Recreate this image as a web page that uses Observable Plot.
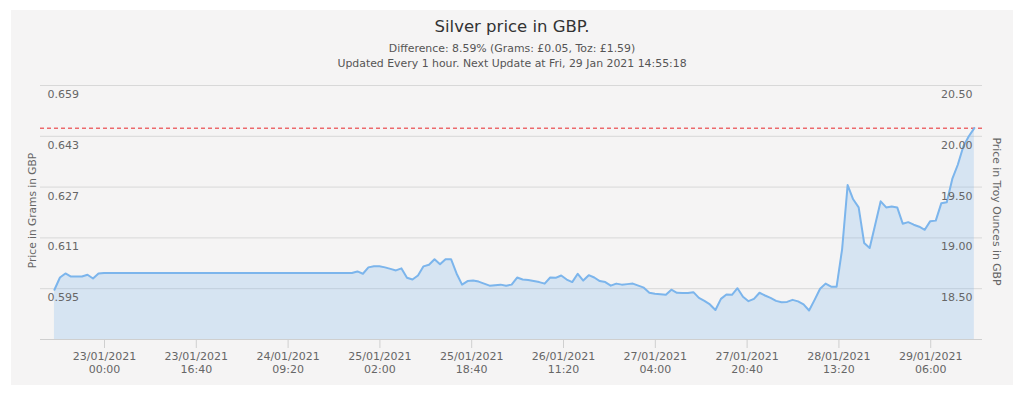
<!DOCTYPE html>
<html>
<head>
<meta charset="utf-8">
<script src="https://cdn.jsdelivr.net/npm/d3@7"></script>
<script src="https://cdn.jsdelivr.net/npm/@observablehq/plot@0.6"></script>
<style>
  html, body { margin: 0; padding: 0; background: #ffffff; }
  body { width: 1024px; height: 393px; position: relative; overflow: hidden; font-family: "DejaVu Sans", sans-serif; }
  #panel { position: absolute; left: 11px; top: 10px; width: 1002px; height: 375px; background: #f5f4f4; }
  .t { position: absolute; left: 0; width: 1024px; text-align: center; white-space: nowrap; }
  #title { top: 17px; font-size: 16.5px; color: #333333; }
  #sub1 { top: 42px; font-size: 10.9px; color: #555555; }
  #sub2 { top: 57px; font-size: 10.9px; color: #555555; }
  #chart { position: absolute; left: 0; top: 80px; }
</style>
</head>
<body>
<div id="panel"></div>
<div class="t" id="title">Silver price in GBP.</div>
<div class="t" id="sub1">Difference: 8.59% (Grams: £0.05, Toz: £1.59)</div>
<div class="t" id="sub2">Updated Every 1 hour. Next Update at Fri, 29 Jan 2021 14:55:18</div>
<div id="chart"></div>
<script>
// Hourly silver price (GBP per troy ounce), first reading at startTime
const startTime = "2021-01-22T14:55:00Z";
const tozValues = [
  18.49, 18.61, 18.65, 18.62, 18.62, 18.62, 18.637, 18.60, 18.65, 18.655,
  18.655, 18.655, 18.655, 18.655, 18.655, 18.655, 18.655, 18.655, 18.655,
  18.655, 18.655, 18.655, 18.655, 18.655, 18.655, 18.655, 18.655, 18.655,
  18.655, 18.655, 18.655, 18.655, 18.655, 18.655, 18.655, 18.655, 18.655,
  18.655, 18.655, 18.655, 18.655, 18.655, 18.655, 18.655, 18.655, 18.655,
  18.655, 18.655, 18.655, 18.655, 18.655, 18.655, 18.655, 18.655, 18.655,
  18.67, 18.647, 18.71, 18.72, 18.72, 18.71, 18.695, 18.68, 18.70, 18.607,
  18.59, 18.63, 18.72, 18.735, 18.79, 18.74, 18.79, 18.79, 18.65, 18.54,
  18.575, 18.58, 18.57, 18.55, 18.53, 18.535, 18.54, 18.53, 18.54, 18.61,
  18.59, 18.585, 18.575, 18.565, 18.55, 18.61, 18.607, 18.63, 18.59, 18.565,
  18.647, 18.58, 18.633, 18.61, 18.575, 18.565, 18.53, 18.55, 18.54, 18.545,
  18.55, 18.53, 18.51, 18.46, 18.45, 18.445, 18.44, 18.49, 18.46, 18.457,
  18.457, 18.466, 18.41, 18.38, 18.345, 18.29, 18.40, 18.443, 18.44, 18.505,
  18.42, 18.377, 18.40, 18.46, 18.433, 18.41, 18.38, 18.367, 18.37, 18.39,
  18.375, 18.345, 18.285, 18.39, 18.50, 18.55, 18.52, 18.52, 18.89, 19.52,
  19.38, 19.30, 18.95, 18.90, 19.13, 19.36, 19.30, 19.31, 19.30, 19.14,
  19.155, 19.13, 19.11, 19.08, 19.165, 19.17, 19.34, 19.35, 19.58, 19.72,
  19.90, 20.00, 20.08
];
const currentPrice = 20.08;

// Axes
const xDomain = ["2021-01-22T12:23:00Z", "2021-01-29T15:24:00Z"];
const xTickTimes = [
  "2021-01-23T00:00:00Z", "2021-01-23T16:40:00Z", "2021-01-24T09:20:00Z",
  "2021-01-25T02:00:00Z", "2021-01-25T18:40:00Z", "2021-01-26T11:20:00Z",
  "2021-01-27T04:00:00Z", "2021-01-27T20:40:00Z", "2021-01-28T13:20:00Z",
  "2021-01-29T06:00:00Z"
];
const yDomain = [18, 20.5];
const tozTicks = [18.5, 19, 19.5, 20, 20.5];
const tozTickLabels = ["18.50", "19.00", "19.50", "20.00", "20.50"];
const gramTickLabels = ["0.595", "0.611", "0.627", "0.643", "0.659"];
const leftTitle = "Price in Grams in GBP";
const rightTitle = "Price in Troy Ounces in GBP";

const t0 = new Date(startTime).getTime();
const data = tozValues.map((v, i) => ({ date: new Date(t0 + i * 3600e3), value: v }));
const ticks = tozTicks.map((v, i) => ({ v, toz: tozTickLabels[i], gram: gramTickLabels[i] }));
const fmt = d3.utcFormat("%d/%m/%Y\n%H:%M");

const font = "DejaVu Sans, sans-serif";
const chart = Plot.plot({
  width: 1024,
  height: 305,
  marginTop: 5,
  marginBottom: 46,
  marginLeft: 40,
  marginRight: 42,
  style: { background: "transparent", fontFamily: font, fontSize: "11px", color: "#666666", overflow: "visible" },
  x: { type: "utc", domain: xDomain.map(d => new Date(d)) },
  y: { domain: yDomain, axis: null },
  marks: [
    Plot.ruleY(tozTicks, { stroke: "#d8d8d8", strokeWidth: 1 }),
    Plot.areaY(data, { x: "date", y1: yDomain[0], y2: "value", fill: "#7cb5ec", fillOpacity: 0.25 }),
    Plot.ruleY([yDomain[0]], { stroke: "#cfcfcf", strokeWidth: 1 }),
    Plot.ruleY([currentPrice], { stroke: "#e8262a", strokeWidth: 1, strokeDasharray: "4,3" }),
    Plot.lineY(data, { x: "date", y: "value", stroke: "#7cb5ec", strokeWidth: 2, curve: "linear" }),
    Plot.axisX(xTickTimes.map(d => new Date(d)), {
      tickFormat: fmt, tickSize: 9, tickPadding: 3, stroke: "#cfcfcf", fill: "#666666",
      lineHeight: 1.12, fontSize: 11, label: null
    }),
    Plot.text(ticks, { y: "v", text: "gram", frameAnchor: "left", textAnchor: "start", dx: 7, dy: 9, fill: "#666666", fontSize: 11 }),
    Plot.text(ticks, { y: "v", text: "toz", frameAnchor: "right", textAnchor: "end", dx: -10, dy: 9, fill: "#666666", fontSize: 11 }),
    Plot.text([leftTitle], { frameAnchor: "left", textAnchor: "middle", dx: -8, dy: -2, rotate: -90, fill: "#666666", fontSize: 10.6 }),
    Plot.text([rightTitle], { frameAnchor: "right", textAnchor: "middle", dx: 14, dy: -1, rotate: 90, fill: "#666666", fontSize: 10.8 })
  ]
});
document.getElementById("chart").appendChild(chart);
</script>
</body>
</html>
